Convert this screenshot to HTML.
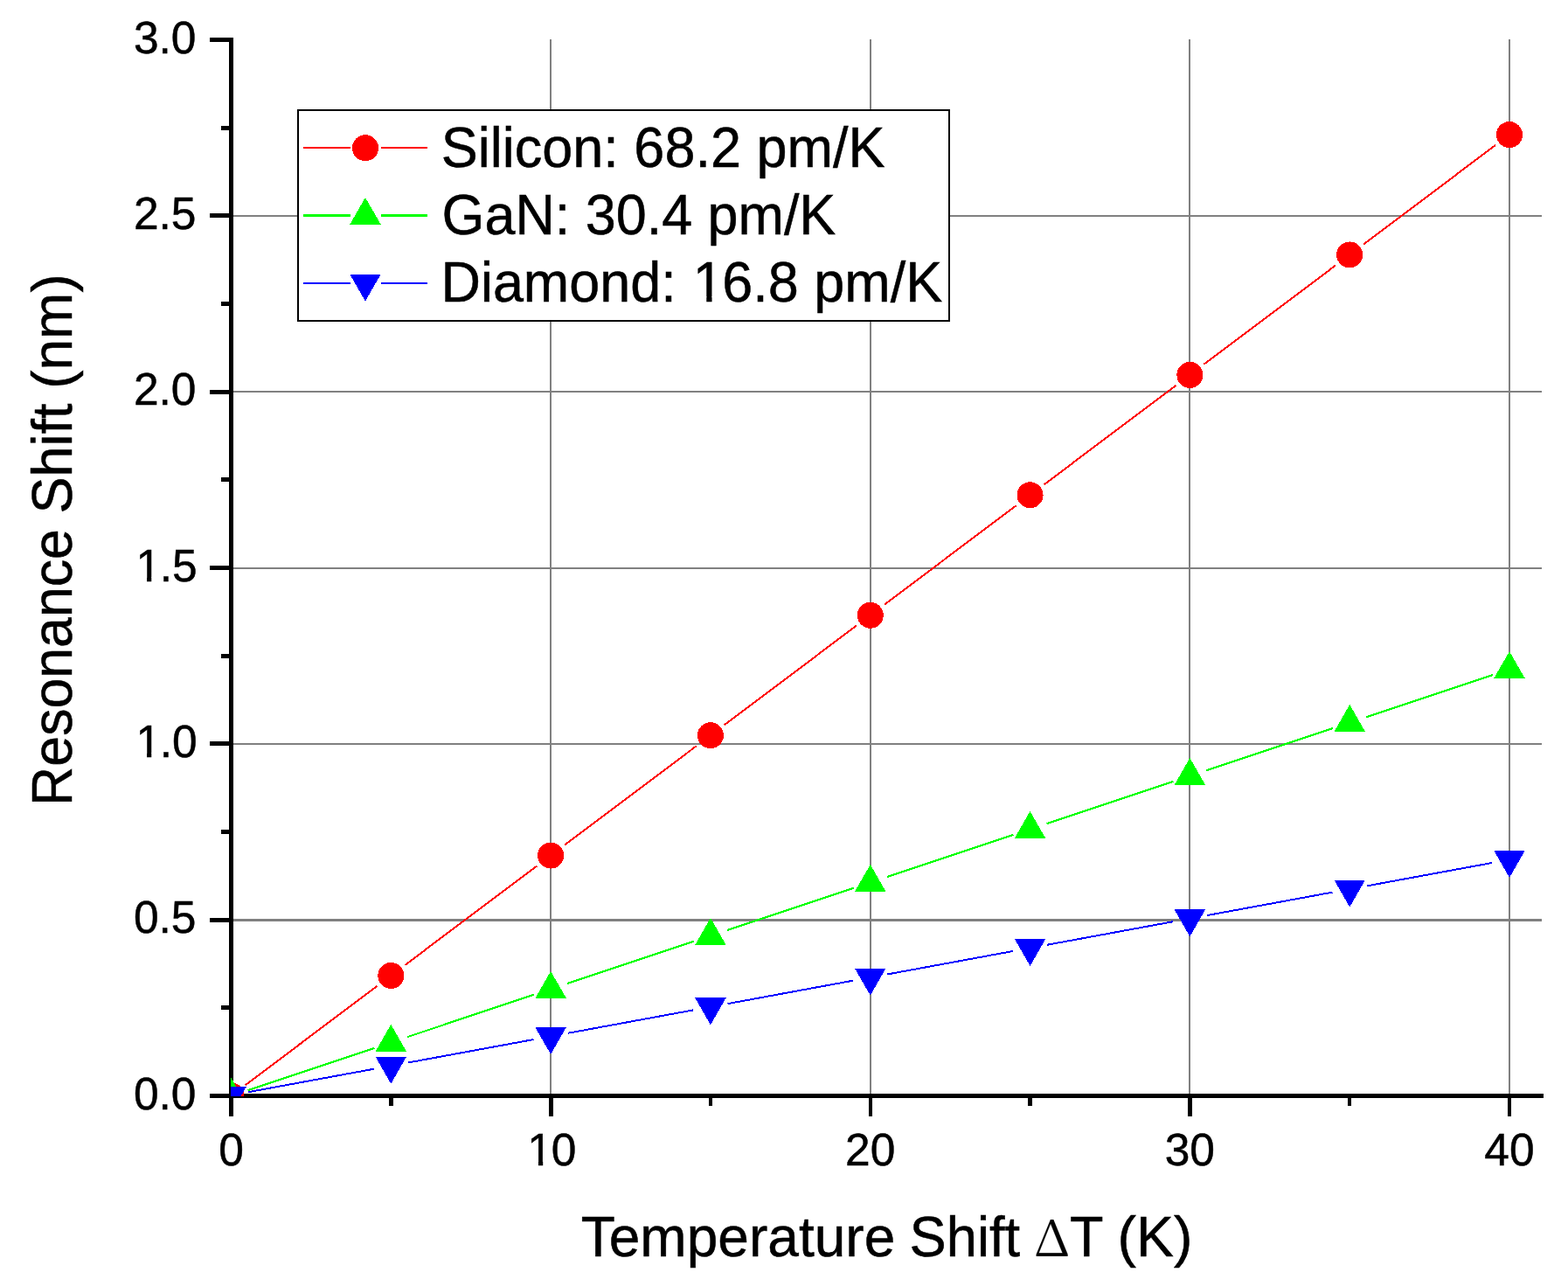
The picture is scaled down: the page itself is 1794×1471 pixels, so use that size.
<!DOCTYPE html>
<html><head><meta charset="utf-8"><title>Resonance Shift vs Temperature Shift</title>
<style>html,body{margin:0;padding:0;background:#fff;overflow:hidden}svg{display:block}text{stroke:#000;stroke-width:0.5px}</style>
</head><body>
<svg width="1794" height="1471" viewBox="0 0 1794 1471">
<rect x="0" y="0" width="1794" height="1471" fill="#fff"/>
<g shape-rendering="crispEdges">
<rect x="629" y="45" width="2" height="1208" fill="#808080"/>
<rect x="995" y="45" width="2" height="1208" fill="#808080"/>
<rect x="1360" y="45" width="2" height="1208" fill="#808080"/>
<rect x="1726" y="45" width="2" height="1208" fill="#808080"/>
<rect x="265" y="1051" width="1499" height="3" fill="#808080"/>
<rect x="265" y="850" width="1499" height="2" fill="#808080"/>
<rect x="265" y="649" width="1499" height="2" fill="#808080"/>
<rect x="265" y="447" width="1499" height="2" fill="#808080"/>
<rect x="265" y="246" width="1499" height="2" fill="#808080"/>
<rect x="262" y="43" width="5" height="1213" fill="#000"/>
<rect x="262" y="1251" width="1504" height="5" fill="#000"/>
<rect x="240" y="1251" width="27" height="5" fill="#000"/>
<rect x="253" y="1150" width="14" height="5" fill="#000"/>
<rect x="240" y="1050" width="27" height="5" fill="#000"/>
<rect x="253" y="949" width="14" height="5" fill="#000"/>
<rect x="240" y="848" width="27" height="5" fill="#000"/>
<rect x="253" y="748" width="14" height="5" fill="#000"/>
<rect x="240" y="647" width="27" height="5" fill="#000"/>
<rect x="253" y="546" width="14" height="5" fill="#000"/>
<rect x="240" y="446" width="27" height="5" fill="#000"/>
<rect x="253" y="345" width="14" height="5" fill="#000"/>
<rect x="240" y="244" width="27" height="5" fill="#000"/>
<rect x="253" y="144" width="14" height="5" fill="#000"/>
<rect x="240" y="43" width="27" height="5" fill="#000"/>
<rect x="262" y="1254" width="5" height="23" fill="#000"/>
<rect x="445" y="1254" width="5" height="11" fill="#000"/>
<rect x="628" y="1254" width="5" height="23" fill="#000"/>
<rect x="811" y="1254" width="4" height="11" fill="#000"/>
<rect x="994" y="1254" width="4" height="23" fill="#000"/>
<rect x="1176" y="1254" width="5" height="11" fill="#000"/>
<rect x="1359" y="1254" width="5" height="23" fill="#000"/>
<rect x="1542" y="1254" width="4" height="11" fill="#000"/>
<rect x="1725" y="1254" width="4" height="23" fill="#000"/>
</g>
<text x="224.5" y="1269" font-family="Liberation Sans, Arial, sans-serif" font-size="51.5" text-anchor="end">0.0</text>
<text x="224.5" y="1067" font-family="Liberation Sans, Arial, sans-serif" font-size="51.5" text-anchor="end">0.5</text>
<text x="224.5" y="866" font-family="Liberation Sans, Arial, sans-serif" font-size="51.5" text-anchor="end"><tspan dx="1.26">1</tspan><tspan dx="-1.26">.0</tspan></text>
<text x="224.5" y="665" font-family="Liberation Sans, Arial, sans-serif" font-size="51.5" text-anchor="end"><tspan dx="1.26">1</tspan><tspan dx="-1.26">.5</tspan></text>
<text x="224.5" y="463" font-family="Liberation Sans, Arial, sans-serif" font-size="51.5" text-anchor="end">2.0</text>
<text x="224.5" y="262" font-family="Liberation Sans, Arial, sans-serif" font-size="51.5" text-anchor="end">2.5</text>
<text x="224.5" y="61" font-family="Liberation Sans, Arial, sans-serif" font-size="51.5" text-anchor="end">3.0</text>
<text x="264.50" y="1333" font-family="Liberation Sans, Arial, sans-serif" font-size="51.5" text-anchor="middle">0</text>
<text x="630.12" y="1333" font-family="Liberation Sans, Arial, sans-serif" font-size="51.5" text-anchor="middle"><tspan dx="1.26">1</tspan><tspan dx="-1.26">0</tspan></text>
<text x="995.75" y="1333" font-family="Liberation Sans, Arial, sans-serif" font-size="51.5" text-anchor="middle">20</text>
<text x="1361.38" y="1333" font-family="Liberation Sans, Arial, sans-serif" font-size="51.5" text-anchor="middle">30</text>
<text x="1727.00" y="1333" font-family="Liberation Sans, Arial, sans-serif" font-size="51.5" text-anchor="middle">40</text>
<text transform="translate(664.71,1437) scale(1.0169,1.02)" font-family="Liberation Sans, Arial, sans-serif" font-size="63">Temperature</text>
<text transform="translate(1040.6,1437) scale(1.004,1.02)" font-family="Liberation Sans, Arial, sans-serif" font-size="63">Shift</text>
<text transform="translate(1182.7,1437) scale(0.970,0.906)" font-family="Noto Serif CJK SC, Liberation Serif, serif" font-size="63" style="stroke-width:0.15px">Δ</text>
<text transform="translate(1224.1,1437) scale(1,1.04)" font-family="Liberation Sans, Arial, sans-serif" font-size="63">T</text>
<text transform="translate(1278.6,1437) scale(1.021,1.03)" font-family="Liberation Sans, Arial, sans-serif" font-size="63">(K)</text>
<text transform="translate(82.1,921.9) rotate(-90) scale(0.994,1.02)" font-family="Liberation Sans, Arial, sans-serif" font-size="63">Resonance</text>
<text transform="translate(82.1,587.5) rotate(-90) scale(1,1.02)" font-family="Liberation Sans, Arial, sans-serif" font-size="63">Shift</text>
<text transform="translate(82.1,444.8) rotate(-90) scale(1.016,1.02)" font-family="Liberation Sans, Arial, sans-serif" font-size="63">(nm)</text>
<defs><clipPath id="pc"><rect x="264" y="0" width="1600" height="1254"/></clipPath></defs>
<g clip-path="url(#pc)">
<path d="M280.49,1241.38L431.33,1128.00M463.30,1103.96L614.14,990.58M646.11,966.54L796.95,853.16M828.92,829.12L979.76,715.74M1011.74,691.70L1162.58,578.32M1194.55,554.28L1345.39,440.90M1377.36,416.86L1528.20,303.48M1560.17,279.44L1711.01,166.06" stroke="#ff0000" stroke-width="2" fill="none" shape-rendering="crispEdges"/>
<circle cx="264.50" cy="1253.40" r="15" fill="#ff0000" shape-rendering="crispEdges"/>
<circle cx="447.31" cy="1115.98" r="15" fill="#ff0000" shape-rendering="crispEdges"/>
<circle cx="630.12" cy="978.56" r="15" fill="#ff0000" shape-rendering="crispEdges"/>
<circle cx="812.94" cy="841.14" r="15" fill="#ff0000" shape-rendering="crispEdges"/>
<circle cx="995.75" cy="703.72" r="15" fill="#ff0000" shape-rendering="crispEdges"/>
<circle cx="1178.56" cy="566.30" r="15" fill="#ff0000" shape-rendering="crispEdges"/>
<circle cx="1361.38" cy="428.88" r="15" fill="#ff0000" shape-rendering="crispEdges"/>
<circle cx="1544.19" cy="291.46" r="15" fill="#ff0000" shape-rendering="crispEdges"/>
<circle cx="1727.00" cy="154.04" r="15" fill="#ff0000" shape-rendering="crispEdges"/>
<path d="M283.47,1247.07L428.34,1198.74M466.28,1186.09L611.15,1137.76M649.10,1125.10L793.97,1076.77M831.91,1064.12L976.78,1015.79M1014.72,1003.13L1159.59,954.80M1197.53,942.15L1342.40,893.82M1380.35,881.16L1525.22,832.83M1563.16,820.18L1708.03,771.85" stroke="#00ff00" stroke-width="2.2" fill="none" shape-rendering="crispEdges"/>
<path d="M264.50,1232.80L282.20,1263.70L246.80,1263.70Z" fill="#00ff00" shape-rendering="crispEdges"/>
<path d="M447.31,1171.82L465.01,1202.72L429.61,1202.72Z" fill="#00ff00" shape-rendering="crispEdges"/>
<path d="M630.12,1110.83L647.83,1141.73L612.42,1141.73Z" fill="#00ff00" shape-rendering="crispEdges"/>
<path d="M812.94,1049.85L830.64,1080.75L795.24,1080.75Z" fill="#00ff00" shape-rendering="crispEdges"/>
<path d="M995.75,988.86L1013.45,1019.76L978.05,1019.76Z" fill="#00ff00" shape-rendering="crispEdges"/>
<path d="M1178.56,927.88L1196.26,958.78L1160.86,958.78Z" fill="#00ff00" shape-rendering="crispEdges"/>
<path d="M1361.38,866.89L1379.08,897.79L1343.67,897.79Z" fill="#00ff00" shape-rendering="crispEdges"/>
<path d="M1544.19,805.91L1561.89,836.81L1526.49,836.81Z" fill="#00ff00" shape-rendering="crispEdges"/>
<path d="M1727.00,744.92L1744.70,775.82L1709.30,775.82Z" fill="#00ff00" shape-rendering="crispEdges"/>
<path d="M284.17,1249.18L427.64,1222.74M466.98,1215.49L610.46,1189.05M649.79,1181.81L793.27,1155.37M832.61,1148.12L976.08,1121.68M1015.42,1114.44L1158.89,1088.00M1198.23,1080.75L1341.71,1054.31M1381.04,1047.07L1524.52,1020.63M1563.86,1013.38L1707.33,986.94" stroke="#0000ff" stroke-width="2" fill="none" shape-rendering="crispEdges"/>
<path d="M246.80,1242.50L282.20,1242.50L264.50,1273.40Z" fill="#0000ff" shape-rendering="crispEdges"/>
<path d="M429.61,1208.82L465.01,1208.82L447.31,1239.71Z" fill="#0000ff" shape-rendering="crispEdges"/>
<path d="M612.42,1175.13L647.83,1175.13L630.12,1206.03Z" fill="#0000ff" shape-rendering="crispEdges"/>
<path d="M795.24,1141.44L830.64,1141.44L812.94,1172.34Z" fill="#0000ff" shape-rendering="crispEdges"/>
<path d="M978.05,1107.76L1013.45,1107.76L995.75,1138.66Z" fill="#0000ff" shape-rendering="crispEdges"/>
<path d="M1160.86,1074.08L1196.26,1074.08L1178.56,1104.97Z" fill="#0000ff" shape-rendering="crispEdges"/>
<path d="M1343.67,1040.39L1379.08,1040.39L1361.38,1071.29Z" fill="#0000ff" shape-rendering="crispEdges"/>
<path d="M1526.49,1006.70L1561.89,1006.70L1544.19,1037.60Z" fill="#0000ff" shape-rendering="crispEdges"/>
<path d="M1709.30,973.02L1744.70,973.02L1727.00,1003.92Z" fill="#0000ff" shape-rendering="crispEdges"/>
</g>
<rect x="341" y="126" width="745" height="241" fill="#fff" stroke="#000" stroke-width="2" shape-rendering="crispEdges"/>
<rect x="347" y="168" width="54" height="2" fill="#ff0000" shape-rendering="crispEdges"/>
<rect x="436" y="168" width="53" height="2" fill="#ff0000" shape-rendering="crispEdges"/>
<circle cx="418.00" cy="169.20" r="15" fill="#ff0000" shape-rendering="crispEdges"/>
<text transform="translate(504.8,191.0) scale(1.0,1.02)" font-family="Liberation Sans, Arial, sans-serif" font-size="63">Silicon: 68.2 pm/K</text>
<rect x="347" y="245" width="54" height="3" fill="#00ff00" shape-rendering="crispEdges"/>
<rect x="436" y="245" width="53" height="3" fill="#00ff00" shape-rendering="crispEdges"/>
<path d="M418.00,225.90L435.70,256.80L400.30,256.80Z" fill="#00ff00" shape-rendering="crispEdges"/>
<text transform="translate(505.55,267.9) scale(0.998,1.02)" font-family="Liberation Sans, Arial, sans-serif" font-size="63">GaN: 30.4 pm/K</text>
<rect x="347" y="323" width="54" height="2" fill="#0000ff" shape-rendering="crispEdges"/>
<rect x="436" y="323" width="53" height="2" fill="#0000ff" shape-rendering="crispEdges"/>
<path d="M400.30,313.70L435.70,313.70L418.00,344.60Z" fill="#0000ff" shape-rendering="crispEdges"/>
<text transform="translate(504.45,344.8) scale(0.999,1.02)" font-family="Liberation Sans, Arial, sans-serif" font-size="63">Diamond: <tspan dx="1.54">1</tspan><tspan dx="-1.54">6.8 pm/K</tspan></text>
<rect x="158.00" y="861.00" width="10.01" height="6.00" fill="#fff"/>
<rect x="173.26" y="861.00" width="9.74" height="6.00" fill="#fff"/>
<rect x="158.00" y="660.00" width="10.01" height="6.00" fill="#fff"/>
<rect x="173.26" y="660.00" width="9.74" height="6.00" fill="#fff"/>
<rect x="606.00" y="1328.00" width="9.95" height="6.00" fill="#fff"/>
<rect x="621.21" y="1328.00" width="9.79" height="6.00" fill="#fff"/>
<rect x="796.00" y="339.00" width="12.28" height="7.00" fill="#fff"/>
<rect x="814.54" y="339.00" width="11.46" height="7.00" fill="#fff"/>
</svg>
</body></html>
